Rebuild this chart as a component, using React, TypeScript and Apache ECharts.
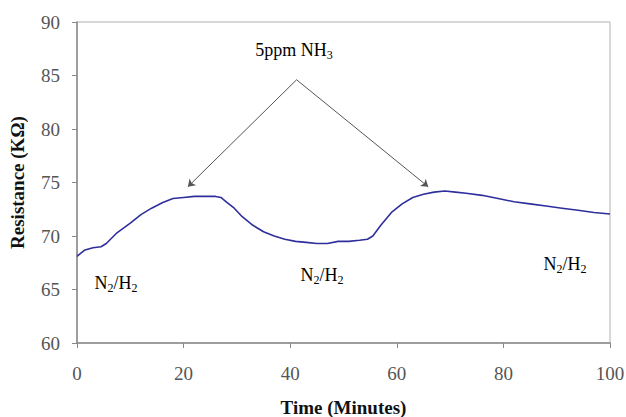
import React, { useEffect, useRef } from "react";
import * as echarts from "echarts";

const timeMin = [0, 0.5, 1.5, 3, 4.5, 5.5, 7.5, 10, 12, 14, 16, 18, 20, 22, 24, 26, 27, 28, 29.5, 31, 33, 35, 37, 39, 41, 43, 45, 47, 49, 51, 53, 54.5, 55.5, 57, 59, 61, 63, 65, 67, 69, 71, 73, 76, 79, 82, 85, 88, 91, 94, 97, 100];
const resistance = [68.1, 68.3, 68.7, 68.9, 69.0, 69.3, 70.3, 71.2, 72.0, 72.6, 73.1, 73.5, 73.6, 73.7, 73.7, 73.7, 73.6, 73.2, 72.6, 71.8, 71.0, 70.4, 70.0, 69.7, 69.5, 69.4, 69.3, 69.3, 69.5, 69.5, 69.6, 69.7, 70.0, 71.0, 72.2, 73.0, 73.6, 73.9, 74.1, 74.2, 74.1, 74.0, 73.8, 73.5, 73.2, 73.0, 72.8, 72.6, 72.4, 72.2, 72.05];
const arrowApex = [41.2, 84.6];
const arrowTargets = [[20.8, 74.6], [65.9, 74.6]];

const SERIF = "'Liberation Serif', 'DejaVu Serif', serif";

export default function App() {
  const ref = useRef<HTMLDivElement>(null);
  useEffect(() => {
    if (!ref.current) return;
    const chart = echarts.init(ref.current, null, { renderer: "svg" });
    const rich = {
      n: { fontFamily: SERIF, fontSize: 18, color: "#333" },
      s: { fontFamily: SERIF, fontSize: 12, color: "#333", padding: [10, 0, 0, 0] },
    };
    chart.setOption({
      animation: false,
      backgroundColor: "#ffffff",
      grid: { left: 77, right: 16, top: 22, bottom: 74, containLabel: false, outerBoundsMode: "none", show: true, borderColor: "#b0b0b0", borderWidth: 1 },
      xAxis: {
        type: "value", min: 0, max: 100, interval: 20,
        name: "Time (Minutes)", nameLocation: "middle", nameGap: 55,
        nameTextStyle: { fontFamily: SERIF, fontWeight: "bold", fontSize: 19, color: "#111" },
        axisLine: { show: true, lineStyle: { color: "#8a8a8a", width: 1.5 } },
        axisTick: { show: true, length: 5, lineStyle: { color: "#8a8a8a" } },
        axisLabel: { fontFamily: SERIF, fontSize: 19, color: "#555", margin: 21 },
        splitLine: { show: false },
      },
      yAxis: {
        type: "value", min: 60, max: 90, interval: 5,
        name: "Resistance (KΩ)", nameLocation: "middle", nameGap: 50,
        nameTextStyle: { fontFamily: SERIF, fontWeight: "bold", fontSize: 19, color: "#111" },
        axisLine: { show: true, lineStyle: { color: "#8a8a8a", width: 1.5 } },
        axisTick: { show: true, length: 5, lineStyle: { color: "#8a8a8a" } },
        axisLabel: { fontFamily: SERIF, fontSize: 19, color: "#555", margin: 17 },
        splitLine: { show: false },
      },
      series: [
        {
          type: "line",
          data: timeMin.map((t, i) => [t, resistance[i]]),
          showSymbol: false,
          lineStyle: { color: "#2e2e9c", width: 1.6 },
          markLine: {
            silent: true,
            symbol: ["none", "arrow"],
            symbolSize: 7,
            label: { show: false },
            lineStyle: { color: "#555", width: 1, type: "solid" },
            data: arrowTargets.map((t) => [
              { coord: arrowApex, symbol: "none" },
              { coord: t, symbol: "arrow" },
            ]),
          },
        },
      ],
      graphic: [
        { type: "text", x: 294, y: 50, style: { text: "{n|5ppm NH}{s|3}", rich, align: "center", verticalAlign: "middle" } },
        { type: "text", x: 116, y: 283, style: { text: "{n|N}{s|2}{n|/H}{s|2}", rich, align: "center", verticalAlign: "middle" } },
        { type: "text", x: 322, y: 275, style: { text: "{n|N}{s|2}{n|/H}{s|2}", rich, align: "center", verticalAlign: "middle" } },
        { type: "text", x: 565, y: 264, style: { text: "{n|N}{s|2}{n|/H}{s|2}", rich, align: "center", verticalAlign: "middle" } },
      ],
    });
    return () => chart.dispose();
  }, []);
  return <div ref={ref} style={{ position: "fixed", left: 0, top: 0, width: 626, height: 417 }} />;
}
